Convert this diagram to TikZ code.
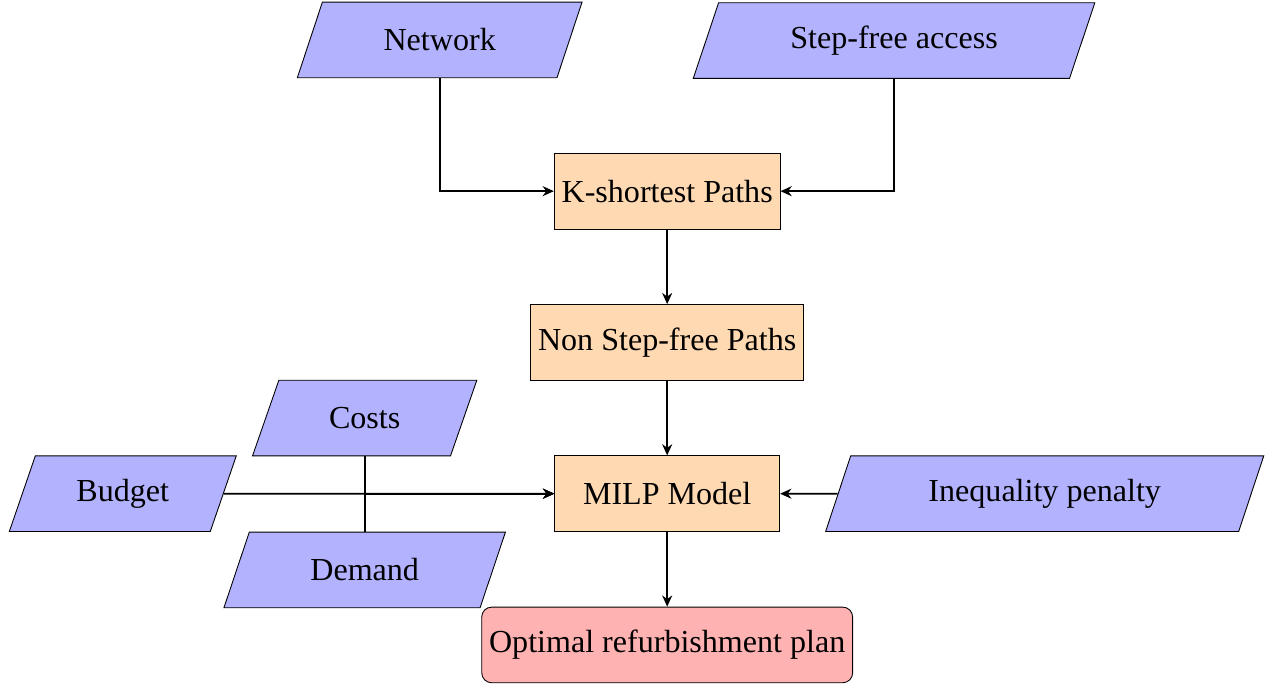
\documentclass[tikz,border=0pt]{standalone}
\usepackage{fontspec}
\setmainfont{Liberation Serif}
\usetikzlibrary{arrows.meta,positioning,shapes.geometric}

\begin{document}
\begin{tikzpicture}[
  node distance=2.42cm and 3.64cm, on grid,
  every node/.style={font=\fontsize{14.6}{17}\selectfont, align=center},
  box/.style={draw=black, fill=orange!30, minimum height=1.21cm, minimum width=3.6cm},
  data/.style={draw=black, fill=blue!30, trapezium, trapezium left angle=70,
    trapezium right angle=110, trapezium stretches=true, minimum height=1.21cm},
  goal/.style={box, fill=red!30, rounded corners=4.5pt},
  arr/.style={-{Stealth[length=1.8mm,width=1.6mm]}, thick}
]
\useasboundingbox (-10.675,-7.885) rectangle (9.613,3.059);
% main column
\node[box] (ksp) {K-shortest Paths};
\node[box, below=of ksp] (nsp) {Non Step-free Paths};
\node[box, below=of nsp] (milp) {MILP Model};
\node[goal, below=of milp] (plan) {Optimal refurbishment plan};
% inputs
\node[data, minimum width=4.58cm, above left=of ksp] (net) {Network};
\node[data, minimum width=6.43cm, above right=2.41cm and 3.63cm of ksp] (sfa) {Step-free access};
\node[data, minimum width=3.6cm, above left=1.21cm and 4.84cm of milp] (costs) {Costs};
\node[data, minimum width=3.65cm, left=8.71cm of milp] (budget) {Budget};
\node[data, minimum width=4.51cm, below left=1.22cm and 4.84cm of milp] (demand) {Demand};
\node[data, minimum width=7.01cm, right=6.04cm of milp] (ineq) {Inequality penalty};
% arrows
\draw[arr] (net) |- (ksp);
\draw[arr] (sfa) |- (ksp);
\draw[arr] (ksp) -- (nsp);
\draw[arr] (nsp) -- (milp);
\draw[arr] (budget) -- (milp);
\draw[arr] (costs) |- (milp);
\draw[arr] (demand) |- (milp);
\draw[arr] (ineq) -- (milp);
\draw[arr] (milp) -- (plan);
\end{tikzpicture}
\end{document}
